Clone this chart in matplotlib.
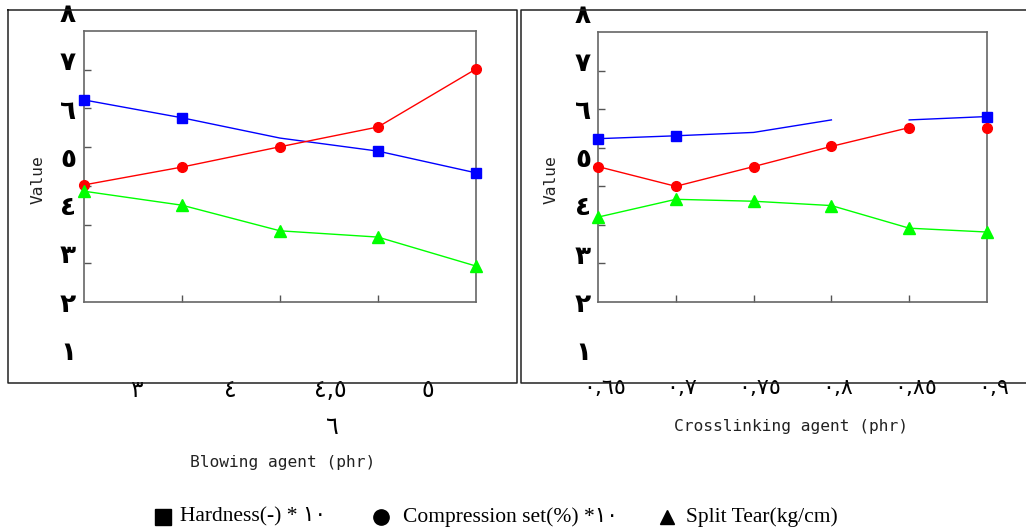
import matplotlib
import numpy as np

matplotlib.use('Agg')
import matplotlib.pyplot as plt
import matplotlib.transforms as mtransforms
from matplotlib.lines import Line2D

# values read against the printed arabic y labels (١ .. ٨)
y_labels = ['١', '٢', '٣', '٤', '٥', '٦', '٧', '٨']
y_label_values = [1, 2, 3, 4, 5, 6, 7, 8]

blowing_labels = ['٣', '٤', '٤,٥', '٥', '٦']
hardness_blow = [6.24, 5.87, 5.45, 5.18, 4.73]
compression_blow = [4.48, 4.85, 5.27, 5.68, 6.88]
tear_blow = [4.35, 4.06, 3.53, 3.40, 2.80]

cross_labels = ['٠,٦٥', '٠,٧', '٠,٧٥', '٠,٨', '٠,٨٥', '٠,٩']
hardness_cross = [5.45, 5.51, 5.58, 5.84, 5.84, 5.91]
compression_cross = [4.87, 4.46, 4.87, 5.29, 5.68, 5.68]
tear_cross = [3.82, 4.19, 4.15, 4.06, 3.59, 3.51]

legend_labels = ['Hardness(-) * ١٠', 'Compression set(%) *١٠', 'Split Tear(kg/cm)']

W, H = 1026, 529
BLUE, RED, GREEN = '#0000ff', '#ff0000', '#00ff00'
YLIM = (2.056, 7.667)
yticks = [YLIM[0] + k * (YLIM[1] - YLIM[0]) / 7 for k in range(1, 7)]
digit_font = dict(family=['DejaVu Sans'], fontweight='bold', fontsize=19)
mono = dict(family='DejaVu Sans Mono', fontsize=11.7, color='#222222')


def fx(px):
    return px / W


def fy(py):
    return 1 - py / H


fig = plt.figure(figsize=(W / 100, H / 100), dpi=100)

# outer frames
for xs, ys in [([8, 8, 517, 517, 8], [10, 383, 383, 10, 10]),
               ([1030, 521, 521, 1030], [10, 10, 383, 383])]:
    fig.add_artist(Line2D([fx(x) for x in xs], [fy(y) for y in ys],
                          color='#222222', lw=1.1, transform=fig.transFigure))


def setup(ax, n):
    ax.set_xlim(0, n - 1)
    ax.set_ylim(*YLIM)
    for s in ax.spines.values():
        s.set_color('#666666')
        s.set_linewidth(1.2)
    ax.set_xticks(range(1, n - 1))
    ax.set_xticklabels([])
    ax.set_yticks(yticks)
    ax.set_yticklabels([])
    ax.tick_params(direction='in', length=5, color='#555555', width=1)


def ylabels(ax, xpx):
    tr = mtransforms.blended_transform_factory(fig.transFigure, ax.transData)
    for lab, v in zip(y_labels, y_label_values):
        ax.text(fx(xpx), v, lab, transform=tr, ha='center', va='center',
                clip_on=False, **digit_font)


# ---- left panel: blowing agent
ax1 = fig.add_axes([fx(84), fy(302), fx(476) - fx(84), fy(31) - fy(302)])
setup(ax1, 5)
x1 = np.arange(5)
ax1.plot(x1, hardness_blow, color=BLUE, lw=1.0, marker='s', ms=7,
         markevery=[0, 1, 3, 4], clip_on=False, zorder=3)
ax1.plot(x1, compression_blow, color=RED, lw=1.0, marker='o', ms=7,
         clip_on=False, zorder=3)
ax1.plot(x1, tear_blow, color=GREEN, lw=1.0, marker='^', ms=8,
         clip_on=False, zorder=3)
ylabels(ax1, 68)

tr1 = mtransforms.blended_transform_factory(ax1.transData, fig.transFigure)
label_pos = [(0.54, 390), (1.49, 390), (2.51, 390), (3.51, 390), (2.53, 427)]
for lab, (xp, yp) in zip(blowing_labels, label_pos):
    ax1.text(xp, fy(yp), lab, transform=tr1, ha='center', va='center',
             fontsize=17, family=['DejaVu Sans'], clip_on=False)
fig.text(fx(283), fy(463), 'Blowing agent (phr)', ha='center', va='center', **mono)
fig.text(fx(38), fy(180), 'Value', rotation=90, ha='center', va='center', **mono)

# ---- right panel: crosslinking agent
ax2 = fig.add_axes([fx(598), fy(302), fx(987) - fx(598), fy(32) - fy(302)])
setup(ax2, 6)
x2 = np.arange(6)
ax2.plot(x2[:4], hardness_cross[:4], color=BLUE, lw=1.0, clip_on=False, zorder=3)
ax2.plot(x2[4:], hardness_cross[4:], color=BLUE, lw=1.0, clip_on=False, zorder=3)
ax2.plot(x2, hardness_cross, ls='none', color=BLUE, marker='s', ms=7,
         markevery=[0, 1, 5], clip_on=False, zorder=3)
ax2.plot(x2[:5], compression_cross[:5], color=RED, lw=1.0, clip_on=False, zorder=3)
ax2.plot(x2, compression_cross, ls='none', color=RED, marker='o', ms=7,
         clip_on=False, zorder=3)
ax2.plot(x2, tear_cross, color=GREEN, lw=1.0, marker='^', ms=8,
         clip_on=False, zorder=3)
ylabels(ax2, 583)

tr2 = mtransforms.blended_transform_factory(ax2.transData, fig.transFigure)
for i, lab in enumerate(cross_labels):
    ax2.text(i + 0.08, fy(388), lab, transform=tr2, ha='center', va='center',
             fontsize=16, family=['DejaVu Sans'], clip_on=False)
fig.text(fx(791), fy(427), 'Crosslinking agent (phr)', ha='center', va='center', **mono)
fig.text(fx(551), fy(180), 'Value', rotation=90, ha='center', va='center', **mono)

# ---- legend row
serif = ['Liberation Serif', 'DejaVu Sans']
for mk, ms, xm, xt, lab in [('s', 11, 163, 180, legend_labels[0]),
                            ('o', 11, 381, 403, legend_labels[1]),
                            ('^', 10, 667, 686, legend_labels[2])]:
    fig.add_artist(Line2D([fx(xm)], [fy(517)], marker=mk, ms=ms, color='black',
                          ls='none', transform=fig.transFigure))
    fig.text(fx(xt), fy(517), lab, ha='left', va='center', fontsize=15.5,
             family=serif)

fig.savefig('out.png', dpi=100)
